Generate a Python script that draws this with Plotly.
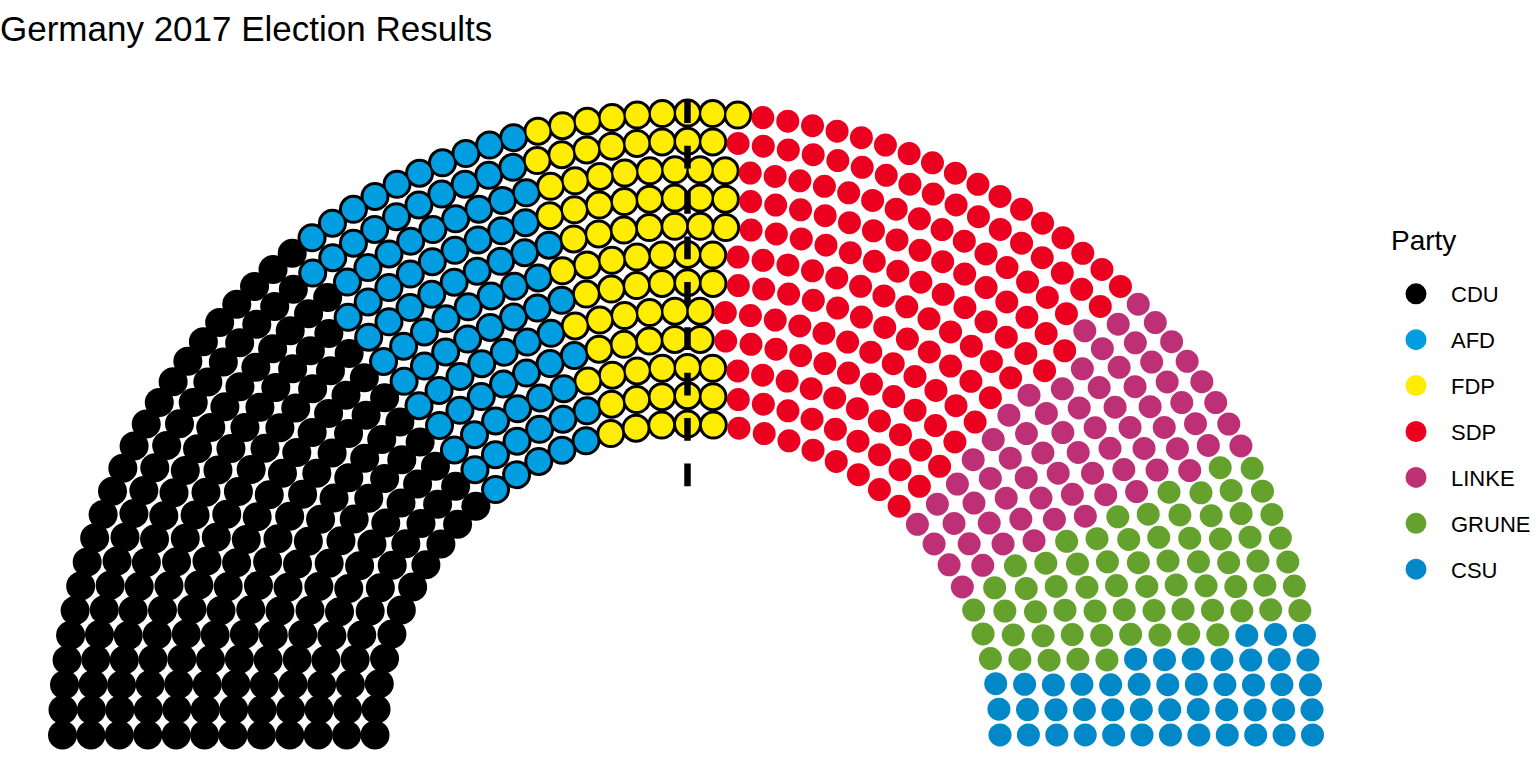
import numpy as np
import plotly.graph_objects as go

# ---- data ----
parties = ["CDU", "AFD", "FDP", "SDP", "LINKE", "GRUNE", "CSU"]
seats = [200, 94, 80, 153, 69, 67, 46]
colours = ["#000000", "#009EE0", "#FFED00", "#EB001F", "#BE3075", "#64A12D", "#0088C8"]
government = [1, 1, 1, 0, 0, 0, 0]
parl_rows = 12
majority = 355
title = "Germany 2017 Election Results"
legend_title = "Party"

# ---- semicircle parliament layout (ggparliament calc_coordinates) ----
N = sum(seats)
radii = np.linspace(1, 2, parl_rows)
pts = []
remaining = N
for i in range(parl_rows):
    c = int(round(remaining * radii[i] / radii[i:].sum()))
    theta = np.linspace(0, np.pi, c)
    for t in theta:
        pts.append((radii[i] * np.cos(t), radii[i] * np.sin(t), i + 1, t))
    remaining -= c
pts.sort(key=lambda p: (-round(p[3], 9), -p[2]))
xs = np.array([p[0] for p in pts])
ys = np.array([p[1] for p in pts])
labels = np.repeat(parties, seats)

fig = go.Figure()
FONT = "Liberation Sans, Arial, Helvetica, sans-serif"

# government highlight (black ring underneath)
gov_mask = np.isin(labels, [p for p, g in zip(parties, government) if g == 1])
fig.add_trace(go.Scatter(
    x=xs[gov_mask], y=ys[gov_mask], mode="markers",
    marker=dict(size=29, color="black"), showlegend=False,
    hoverinfo="skip", cliponaxis=False))

for p, col in zip(parties, colours):
    m = labels == p
    fig.add_trace(go.Scatter(
        x=xs[m], y=ys[m], mode="markers", name=p, legendgroup=p,
        marker=dict(size=18, color=col, line=dict(color=col, width=5)),
        cliponaxis=False))

# majority threshold line
fig.add_trace(go.Scatter(
    x=[0, 0], y=[0.8, 2.04], mode="lines",
    line=dict(color="black", width=6.5, dash="22.7px,22.7px"),
    showlegend=False, hoverinfo="skip", cliponaxis=False))

fig.add_annotation(
    text=legend_title, xref="paper", yref="paper",
    x=1390 / 1376, xanchor="left", y=1 - (241 - 82) / 684, yanchor="middle",
    showarrow=False, font=dict(size=28, family=FONT, color="black"))

fig.update_layout(
    width=1536, height=768,
    margin=dict(l=0, r=160, t=82, b=2),
    paper_bgcolor="white", plot_bgcolor="white",
    font=dict(family=FONT, color="black"),
    title=dict(text=title, x=0.0, xanchor="left", y=0.962, yanchor="middle",
               font=dict(size=35, family=FONT, color="black")),
    xaxis=dict(range=[-2.2, 2.2], visible=False, showgrid=False, zeroline=False),
    yaxis=dict(range=[-0.1, 2.1], visible=False, showgrid=False, zeroline=False),
    legend=dict(
        font=dict(size=22), x=1382 / 1376, xanchor="left",
        y=1 - (273 - 82) / 684, yanchor="top",
        tracegroupgap=14.3, itemwidth=60, bgcolor="rgba(0,0,0,0)"),
    showlegend=True,
)

fig.write_html("out.html")
